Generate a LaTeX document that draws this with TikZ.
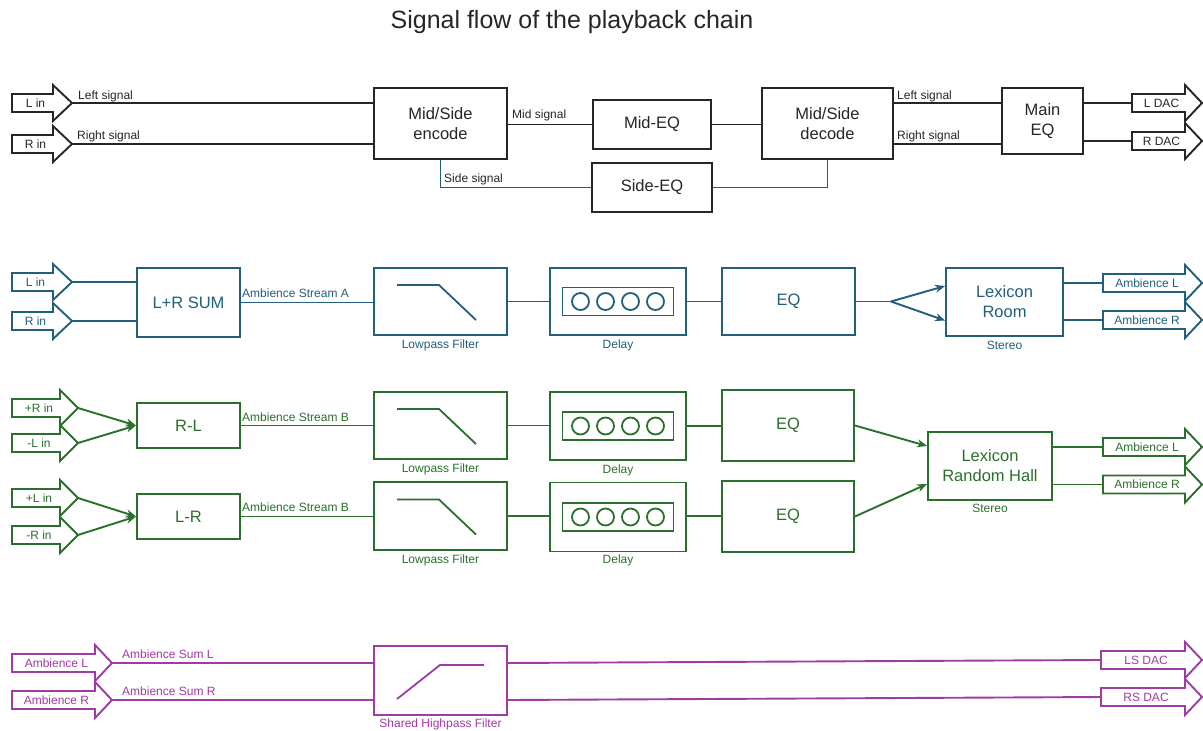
\documentclass[tikz,border=0pt]{standalone}
\usepackage{fontspec}
\setmainfont{Liberation Sans}
\usetikzlibrary{calc,arrows.meta}
\definecolor{ink}{RGB}{38,38,38}
\definecolor{blu}{RGB}{33,95,122}
\definecolor{grn}{RGB}{42,112,44}
\definecolor{mag}{RGB}{160,58,165}
\newcommand\fsm{\fontsize{12}{14}\selectfont}
\newcommand\fbx{\fontsize{16.5}{20}\selectfont}
\newcommand\fttl{\fontsize{25}{30}\selectfont}
% block arrow: #1 colour, #2 name, #3 x left, #4 x head start, #5 x tip, #6 y, #7 text
\newcommand\blockarr[7]{%
  \draw[#1, line width=1.9pt, line join=miter]
    ({#3},{#6-9}) -- ({#4},{#6-9}) -- ({#4},{#6-18}) -- ({#5},{#6})
    -- ({#4},{#6+18}) -- ({#4},{#6+9}) -- ({#3},{#6+9}) -- cycle;
  \node[font=\fsm, text=#1, inner sep=0pt] (#2) at ({(#3+#4)/2+3},{#6}) {#7};
  \coordinate (#2-tip) at ({#5},{#6});
  \coordinate (#2-tail) at ({#3},{#6});
}
\newcommand\delayicon[2]{%
  \draw[#2, line width=1.8pt] ($(#1)+(-55.5,-14)$) rectangle ($(#1)+(55.5,14)$);
  \foreach \dx in {-37.5,-12.5,12.5,37.5}
    \draw[#2, line width=1.8pt] ($(#1)+(\dx,0)$) circle[radius=8.5pt];
}
\newcommand\lpficon[2]{%
  \draw[#2, line width=1.8pt] ($(#1)+(-43.5,-16.5)$) -- ($(#1)+(-1.5,-16.5)$) -- ($(#1)+(35.5,18.5)$);
}
\begin{document}
\begin{tikzpicture}[x=1pt,y=-1pt,
  box/.style={draw, line width=1.9pt, inner sep=0pt, align=center, font=\fbx},
  wire/.style={line width=1.9pt},
  lab/.style={font=\fsm, anchor=base west, inner sep=0pt},
  sub/.style={font=\fsm, anchor=north, inner sep=0pt},
  tipar/.style={-{Stealth[length=10pt,width=8pt]}}]
\useasboundingbox[fill=white] (0,0) rectangle (1203,731);

\node[font=\fttl, text=ink] (title) at (572,22) {Signal flow of the playback chain};

% ---------------- Row 1 (black) ----------------
\begin{scope}[ink]
\blockarr{ink}{lin1}{12}{53}{72}{103}{L in}
\blockarr{ink}{rin1}{12}{53}{72}{144}{R in}
\blockarr{ink}{ldac}{1132}{1185}{1202}{103}{L DAC}
\blockarr{ink}{rdac}{1132}{1185}{1202}{141}{R DAC}
\node[box, minimum width=133pt, minimum height=71pt] (enc) at (440.5,123.5) {Mid/Side\\encode};
\node[box, minimum width=118pt, minimum height=49pt] (mideq) at (652,124.5) {Mid-EQ};
\node[box, minimum width=120pt, minimum height=49pt] (sideeq) at (652,187.5) {Side-EQ};
\node[box, minimum width=131pt, minimum height=71pt] (dec) at (827.5,123.5) {Mid/Side\\decode};
\node[box, minimum width=81pt, minimum height=66pt] (maineq) at (1042.5,121) {Main\\EQ};
\draw[wire] (lin1-tip) -- (lin1-tip -| enc.west);
\draw[wire] (rin1-tip) -- (rin1-tip -| enc.west);
\node[lab] (t1) at (78,99) {Left signal};
\node[lab] (t2) at (77,139.5) {Right signal};
\draw[wire] (enc.east |- mideq.west) -- (mideq.west);
\draw[wire] (mideq.east) -- (mideq.east -| dec.west);
\node[lab] (t3) at (512,118) {Mid signal};
\draw[wire, blu] (enc.south) |- (sideeq.west);
\draw[wire, blu] (sideeq.east) -| (dec.south);
\node[lab] (t4) at (444,182) {Side signal};
\draw[wire] (lin1-tip -| dec.east) -- (lin1-tip -| maineq.west);
\draw[wire] (rin1-tip -| dec.east) -- (rin1-tip -| maineq.west);
\node[lab] (t5) at (897,99) {Left signal};
\node[lab] (t6) at (897,139.5) {Right signal};
\draw[wire] (ldac-tail -| maineq.east) -- (ldac-tail);
\draw[wire] (rdac-tail -| maineq.east) -- (rdac-tail);
\end{scope}

% ---------------- Row 2 (blue) ----------------
\begin{scope}[blu, text=blu]
\blockarr{blu}{lin2}{12}{53}{72}{282}{L in}
\blockarr{blu}{rin2}{12}{53}{72}{321}{R in}
\blockarr{blu}{ambl2}{1103}{1185}{1202}{283}{Ambience L}
\blockarr{blu}{ambr2}{1103}{1185}{1202}{320}{Ambience R}
\node[box, minimum width=103pt, minimum height=69pt] (sum) at (188.5,302.5) {L+R SUM};
\node[box, minimum width=133pt, minimum height=67pt] (lpf1) at (440.5,301.5) {};
\node[box, minimum width=136pt, minimum height=67pt] (del1) at (618,301.5) {};
\node[box, minimum width=133pt, minimum height=67pt] (eq1) at (788.5,301.5) {EQ};
\node[box, minimum width=117pt, minimum height=68pt] (lexr) at (1004.5,302) {Lexicon\\Room};
\lpficon{lpf1}{blu}
\delayicon{del1}{blu}
\node[sub] (s1) at ($(lpf1.south)+(0,4)$) {Lowpass Filter};
\node[sub] (s2) at ($(del1.south)+(0,4)$) {Delay};
\node[sub] (s3) at ($(lexr.south)+(0,4)$) {Stereo};
\draw[wire] (lin2-tip) -- (lin2-tip -| sum.west);
\draw[wire] (rin2-tip) -- (rin2-tip -| sum.west);
\draw[wire] (sum.east) -- (sum.east -| lpf1.west);
\node[lab] (t7) at (242,297.5) {Ambience Stream A};
\draw[wire] (lpf1.east) -- (del1.west);
\draw[wire] (del1.east) -- (eq1.west);
\coordinate (fork) at (891,301.5);
\draw[wire] (eq1.east) -- (fork);
\draw[wire, tipar] (fork) -- ($(lexr.west)+(0,-16)$);
\draw[wire, tipar] (fork) -- ($(lexr.west)+(0,18.5)$);
\draw[wire] (ambl2-tail -| lexr.east) -- (ambl2-tail);
\draw[wire] (ambr2-tail -| lexr.east) -- (ambr2-tail);
\end{scope}

% ---------------- Row 3 (green) ----------------
\begin{scope}[grn, text=grn]
\blockarr{grn}{rp}{12}{60}{78}{408}{+R in}
\blockarr{grn}{lm}{12}{60}{78}{443}{-L in}
\blockarr{grn}{lp}{12}{60}{78}{498}{+L in}
\blockarr{grn}{rm}{12}{60}{78}{535}{-R in}
\blockarr{grn}{ambl3}{1103}{1185}{1202}{447}{Ambience L}
\blockarr{grn}{ambr3}{1103}{1185}{1202}{484.5}{Ambience R}
\node[box, minimum width=103pt, minimum height=45pt] (rl) at (188.5,425.5) {R-L};
\node[box, minimum width=103pt, minimum height=45pt] (lr) at (188.5,516.5) {L-R};
\node[box, minimum width=133pt, minimum height=67pt] (lpf2) at (440.5,425.5) {};
\node[box, minimum width=133pt, minimum height=68pt] (lpf3) at (440.5,516) {};
\node[box, minimum width=136pt, minimum height=68pt] (del2) at (618,426) {};
\node[box, minimum width=136pt, minimum height=69pt] (del3) at (618,517) {};
\node[box, minimum width=132pt, minimum height=71pt] (eq2) at (788,425.5) {EQ};
\node[box, minimum width=132pt, minimum height=71pt] (eq3) at (788,516.5) {EQ};
\node[box, minimum width=124pt, minimum height=68pt] (lexh) at (990,466) {Lexicon\\Random Hall};
\lpficon{lpf2}{grn}
\lpficon{lpf3}{grn}
\delayicon{del2}{grn}
\delayicon{del3}{grn}
\node[sub] (s4) at ($(lpf2.south)+(0,4)$) {Lowpass Filter};
\node[sub] (s5) at ($(del2.south)+(0,4)$) {Delay};
\node[sub] (s6) at ($(lpf3.south)+(0,4)$) {Lowpass Filter};
\node[sub] (s7) at ($(del3.south)+(0,2)$) {Delay};
\node[sub] (s8) at ($(lexh.south)+(0,3)$) {Stereo};
\draw[wire, tipar] (rp-tip) -- (rl.west);
\draw[wire, tipar] (lm-tip) -- (rl.west);
\draw[wire, tipar] (lp-tip) -- (lr.west);
\draw[wire, tipar] (rm-tip) -- (lr.west);
\draw[wire] (rl.east) -- (rl.east -| lpf2.west);
\draw[wire] (lr.east) -- (lr.east -| lpf3.west);
\node[lab] (t8) at (242,421) {Ambience Stream B};
\node[lab] (t9) at (242,511) {Ambience Stream B};
\draw[wire] (lpf2.east) -- (lpf2.east -| del2.west);
\draw[wire] (del2.east) -- (del2.east -| eq2.west);
\draw[wire] (lpf3.east) -- (lpf3.east -| del3.west);
\draw[wire] (lpf3.east -| del3.east) -- (lpf3.east -| eq3.west);
\draw[wire, tipar] (eq2.east) -- ($(lexh.west)+(0,-20)$);
\draw[wire, tipar] (eq3.east) -- ($(lexh.west)+(0,18)$);
\draw[wire] (ambl3-tail -| lexh.east) -- (ambl3-tail);
\draw[wire] (ambr3-tail -| lexh.east) -- (ambr3-tail);
\end{scope}

% ---------------- Row 4 (magenta) ----------------
\begin{scope}[mag, text=mag]
\blockarr{mag}{al4}{12}{95}{112}{663}{Ambience L}
\blockarr{mag}{ar4}{12}{95}{112}{700}{Ambience R}
\blockarr{mag}{lsdac}{1101}{1185}{1202}{660}{LS DAC}
\blockarr{mag}{rsdac}{1101}{1185}{1202}{697}{RS DAC}
\node[box, minimum width=133pt, minimum height=69pt] (hpf) at (440.5,680.5) {};
\draw[mag, line width=1.8pt] ($(hpf)+(-43.5,18.5)$) -- ($(hpf)+(-0.5,-15.5)$) -- ($(hpf)+(43.5,-15.5)$);
\node[sub] (s9) at ($(hpf.south)+(0,2.5)$) {Shared Highpass Filter};
\draw[wire] (al4-tip) -- (al4-tip -| hpf.west);
\draw[wire] (ar4-tip) -- (ar4-tip -| hpf.west);
\node[lab] (t10) at (122,658) {Ambience Sum L};
\node[lab] (t11) at (122,695) {Ambience Sum R};
\draw[wire] (al4-tip -| hpf.east) -- (lsdac-tail);
\draw[wire] (ar4-tip -| hpf.east) -- (rsdac-tail);
\end{scope}
\end{tikzpicture}
\end{document}
